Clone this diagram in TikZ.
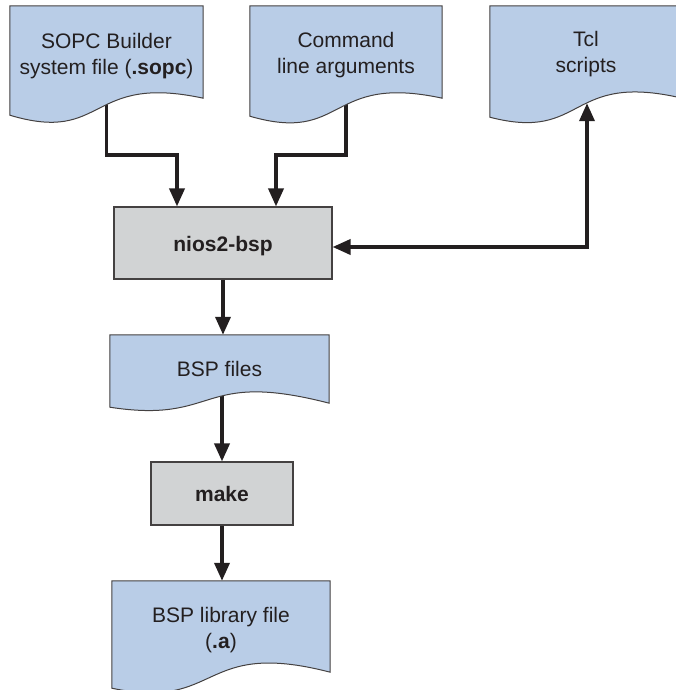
\documentclass[tikz,border=0pt]{standalone}
\usepackage{fontspec}
\setmainfont{Liberation Sans}
\usetikzlibrary{arrows.meta,calc}
\definecolor{docblue}{HTML}{B9CDE7}
\definecolor{boxgray}{HTML}{D1D3D4}
\definecolor{ink}{HTML}{231F20}
\pgfdeclarelayer{bg}
\pgfdeclarelayer{docs}
\pgfsetlayers{bg,docs,main}
\tikzset{
  doc/.style={rectangle,draw=none,inner sep=0pt},
  doctext/.style={inner sep=0pt,align=center,text=ink,
    font=\fontsize{21}{26}\selectfont},
  docline/.style={draw=ink!85,line width=1pt,fill=docblue},
  procbox/.style={rectangle,draw=ink!85,line width=1.1pt,fill=boxgray,inner sep=0pt},
  proctext/.style={inner sep=0pt,text=ink,font=\fontsize{21}{26}\selectfont\bfseries},
  arr/.style={draw=ink,line width=3.6pt,
    -{Triangle[length=18pt,width=15pt]}},
  arrboth/.style={draw=ink,line width=3.6pt,
    {Triangle[length=18pt,width=15pt]}-{Triangle[length=18pt,width=15pt]}}
}
\newcommand\docshape[4]{%
  \begin{pgfonlayer}{docs}
  \draw[docline] (#1.north west) -- (#1.north east) -- (#1.south east)
    .. controls ($(#1.south west)!0.4!(#1.south east)+(0,-#2)$)
    and ($(#1.south west)!0.5!(#1.south east)+(0,#3)$)
    .. ($(#1.south west)+(0,#4)$) -- cycle;
  \end{pgfonlayer}}
\begin{document}
\begin{tikzpicture}[x=1pt,y=-1pt]
\useasboundingbox (0,0) rectangle (675,690);
% document outlines
\node[doc,minimum width=193pt,minimum height=92pt] (sopc) at (106.5,52) {};
\node[doc,minimum width=192pt,minimum height=92pt] (cmd) at (346,52) {};
\node[doc,minimum width=192pt,minimum height=92pt] (tcl) at (586,52) {};
\node[doc,minimum width=219pt,minimum height=68pt] (bsp) at (219.5,369) {};
\node[doc,minimum width=218pt,minimum height=91pt] (lib) at (221,626.5) {};
\docshape{sopc}{25}{46}{17}
\docshape{cmd}{25}{46}{18}
\docshape{tcl}{27}{44}{19}
\docshape{bsp}{34}{21}{4}
\docshape{lib}{34}{39}{16}
% document texts
\node[doctext] (sopc-t) at ([yshift=-4pt]sopc.center)
  {SOPC Builder\\system file (\textbf{.sopc})};
\node[doctext] (cmd-t) at ([yshift=-3pt]cmd.center) {Command\\line arguments};
\node[doctext] (tcl-t) at ([yshift=-2.5pt]tcl.center) {Tcl\\scripts};
\node[doctext] (bsp-t) at ([yshift=0.5pt]bsp.center) {BSP files};
\node[doctext] (lib-t) at ([yshift=-4pt]lib.center)
  {BSP library file\\(\textbf{.a})};
% process boxes
\node[procbox,minimum width=218pt,minimum height=72pt] (nios) at (223,243) {};
\node[proctext] (nios-t) at ([yshift=-3pt]nios.center) {nios2-bsp};
\node[procbox,minimum width=142pt,minimum height=63pt] (make) at (222,493.5) {};
\node[proctext] (make-t) at (make.center) {make};
% connectors
\begin{pgfonlayer}{bg}
\draw[arr] (sopc.center) |- (177,155) -- (177,155 |- nios.north);
\draw[arr] (cmd.center) |- (276,155) -- (276,155 |- nios.north);
\draw[arrboth] ([yshift=-4pt]nios.east) -| ([xshift=1pt,yshift=-5pt]tcl.south);
\draw[arr] (nios.south) -- (nios.south |- bsp.north);
\draw[arr] (make.north |- bsp.center) -- (make.north);
\draw[arr] (make.south) -- (make.south |- lib.north);
\end{pgfonlayer}
\end{tikzpicture}
\end{document}
